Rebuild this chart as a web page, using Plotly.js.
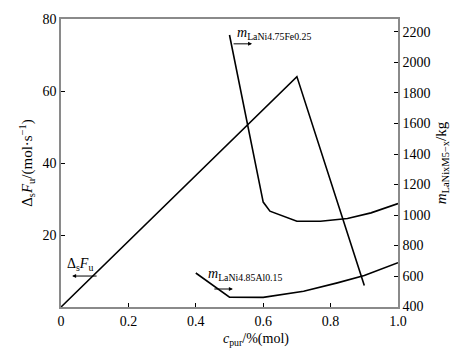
<!DOCTYPE html>
<html>
<head>
<meta charset="utf-8">
<script src="https://cdn.plot.ly/plotly-3.0.1.min.js"></script>
<style>html,body{margin:0;padding:0;background:#fff;}#chart{width:476px;height:357px;}</style>
</head>
<body>
<div id="chart"></div>
<script>
// Δs Fu (left axis)
var cFu = [0, 0.7, 0.9];
var Fu = [0, 64, 6];
// m LaNi4.75Fe0.25 (right axis, kg)
var cFe = [0.5, 0.6, 0.62, 0.67, 0.70, 0.77, 0.85, 0.92, 1.0];
var mFe = [2180, 1085, 1025, 982, 959, 959, 977, 1014, 1075];
// m LaNi4.85Al0.15 (right axis, kg)
var cAl = [0.4, 0.5, 0.6, 0.72, 0.82, 0.9, 1.0];
var mAl = [620, 462, 460, 500, 555, 603, 687];
// ticks
var xTicks = [0, 0.2, 0.4, 0.6, 0.8, 1.0];
var xTickText = ["0", "0.2", "0.4", "0.6", "0.8", "1.0"];
var yTicks = [20, 40, 60, 80];
var y2Ticks = [400, 600, 800, 1000, 1200, 1400, 1600, 1800, 2000, 2200];

var FONT = "Liberation Serif";
var lineStyle = {color: "#000", width: 1.6};

var traces = [
  {x: cFu, y: Fu, type: "scatter", mode: "lines", line: lineStyle, yaxis: "y", name: "ΔsFu", showlegend: false},
  {x: cFe, y: mFe, type: "scatter", mode: "lines", line: lineStyle, yaxis: "y2", name: "mFe", showlegend: false},
  {x: cAl, y: mAl, type: "scatter", mode: "lines", line: lineStyle, yaxis: "y2", name: "mAl", showlegend: false}
];

var axCol = "#8a8a8a";
var layout = {
  width: 476, height: 357,
  margin: {l: 61, r: 78, t: 19, b: 50},
  paper_bgcolor: "#fff", plot_bgcolor: "#fff",
  font: {family: FONT, size: 14, color: "#000"},
  showlegend: false,
  xaxis: {
    range: [0, 1], tickvals: xTicks, ticktext: xTickText,
    ticks: "inside", ticklen: 4, tickcolor: "#000", showgrid: false, zeroline: false,
    showline: true, linecolor: axCol, linewidth: 1.5, mirror: true,
    tickfont: {family: FONT, size: 14}
  },
  yaxis: {
    range: [0, 80], tickvals: yTicks,
    ticks: "inside", ticklen: 4, tickcolor: "#000", showgrid: false, zeroline: false,
    showline: true, linecolor: axCol, linewidth: 1.5,
    title: {text: "Δ<sub>s</sub><i>F</i><sub>u</sub>/(mol·s<sup>−1</sup>)", font: {family: FONT, size: 15}, standoff: 6},
    tickfont: {family: FONT, size: 14}
  },
  yaxis2: {
    range: [397, 2285], tickvals: y2Ticks, overlaying: "y", side: "right",
    ticks: "inside", ticklen: 4, tickcolor: "#000", showgrid: false, zeroline: false,
    showline: true, linecolor: axCol, linewidth: 1.5,
    title: {text: "<i>m</i><sub>LaNixM5−x</sub>/kg", font: {family: FONT, size: 15}, standoff: 6},
    tickfont: {family: FONT, size: 14}
  },
  annotations: [
    {x: 0.579, y: -0.075, xref: "paper", yref: "paper", yanchor: "top", text: "<i>c</i><sub>pur</sub>/%(mol)", showarrow: false, font: {family: FONT, size: 14}},
    {x: 0.056, y: 11.9, xref: "x", yref: "y", text: "Δ<sub>s</sub><i>F</i><sub>u</sub>", showarrow: false, font: {family: FONT, size: 14}},
    {x: 0.033, y: 8.6, xref: "x", yref: "y", text: "", showarrow: true, ax: 26, ay: 0, arrowhead: 2, arrowsize: 0.8, arrowwidth: 1, arrowcolor: "#000"},
    {x: 0.631, y: 76.1, xref: "x", yref: "y", text: "<i>m</i><sub>LaNi4.75Fe0.25</sub>", showarrow: false, font: {family: FONT, size: 14}},
    {x: 0.567, y: 73.1, xref: "x", yref: "y", text: "", showarrow: true, ax: -20, ay: 0, arrowhead: 2, arrowsize: 0.8, arrowwidth: 1, arrowcolor: "#000"},
    {x: 0.545, y: 8.9, xref: "x", yref: "y", text: "<i>m</i><sub>LaNi4.85Al0.15</sub>", showarrow: false, font: {family: FONT, size: 14}},
    {x: 0.51, y: 5.0, xref: "x", yref: "y", text: "", showarrow: true, ax: -20, ay: 0, arrowhead: 2, arrowsize: 0.8, arrowwidth: 1, arrowcolor: "#000"}
  ]
};

Plotly.newPlot("chart", traces, layout, {displayModeBar: false});
</script>
</body>
</html>
